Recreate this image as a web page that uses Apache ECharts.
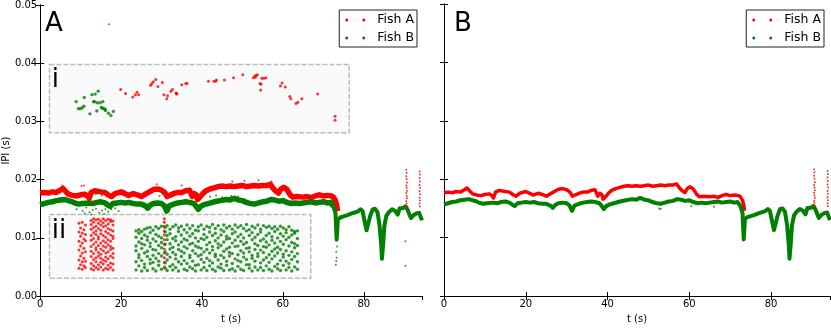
<!DOCTYPE html>
<html>
<head>
<meta charset="utf-8">
<script src="https://cdn.jsdelivr.net/npm/echarts@6/dist/echarts.min.js"></script>
<style>
	body { margin : 0; background : #fff; }
	#ipi_div { width : 831px; height : 329px; }
</style>
</head>
<body>
<div id="ipi_div"></div>
<script>
// IPI values are kept in ms, the y labels show seconds
var xTicks = [ 0, 20, 40, 60, 80 ];

// band of Fish A, [t (s), IPI (ms)]
var fishA = [ [0,17.7],[1,17.8],[2,17.7],[3,17.9],[4,17.8],[5,18.2],[5.6,18.5],[6.3,18.0],[7,17.5],[8,17.3],[9,17.2],[10,17.4],[11,17.5],[11.7,17.2],[12.1,16.8],[12.6,17.8],[13.5,18.1],[15,17.9],[16,17.8],[17,17.3],[17.6,17.1],[18.5,17.6],[20,17.9],[21,17.6],[21.8,17.3],[23,17.6],[24,17.4],[25,17.1],[26,17.5],[27,17.9],[28,18.3],[29,18.4],[30,18.2],[30.8,17.8],[31.4,17.1],[32,17.3],[33,17.6],[34,17.8],[35,17.8],[36,18.1],[36.9,18.2],[37.2,17.8],[37.6,17.1],[38.1,17.6],[38.6,17.4],[38.9,16.6],[39.5,17.0],[40.2,17.6],[41,18.1],[42,18.4],[43,18.6],[44,18.8],[45,18.9],[46,18.8],[47,18.9],[48,18.8],[49,18.9],[50,19.0],[51,18.8],[51.3,18.5],[52,18.9],[53,19.0],[54,18.9],[55,19.0],[56,19.0],[56.9,19.2],[57.5,18.6],[58,18.2],[58.9,17.7],[59.5,18.4],[60.2,18.7],[61,18.3],[61.8,17.4],[62.5,17.0],[63.5,17.1],[65,17.0],[66,17.1],[67,16.9],[68,17.2],[69,17.4],[70,17.2],[71,17.3],[72,17.2],[72.5,17.0],[73,16.4],[73.3,15.6],[73.5,14.6] ];

// band of Fish B
var fishB = [ [0,15.7],[1,15.9],[2,16.1],[3,16.2],[4,16.4],[5,16.5],[6,16.6],[7,16.4],[8,16.2],[8.5,16.0],[9.5,15.8],[10.5,15.9],[12,16.0],[13,15.9],[14,16.1],[15,16.2],[16,16.0],[16.8,15.6],[17.3,15.4],[18,15.9],[19,16.0],[20,16.1],[21,16.0],[22,16.1],[23,15.9],[24,15.8],[25,15.8],[26,15.5],[26.6,15.1],[27.2,15.6],[28,15.9],[29,16.0],[30,15.9],[30.7,15.5],[31.3,14.6],[31.9,15.5],[33,15.8],[34,16.0],[35,16.1],[36,16.2],[37,16.1],[38,15.9],[38.6,15.4],[39.1,14.9],[39.7,15.4],[40.5,15.7],[41.5,15.9],[43,16.2],[44.5,16.4],[46,16.6],[47,16.5],[48,16.8],[49,16.5],[50,16.4],[51,16.1],[52,15.9],[53,15.8],[54,16.0],[55,16.2],[56,16.3],[57,16.6],[58,16.5],[59,16.3],[60,16.4],[61,16.1],[62,15.9],[63,16.0],[64,15.9],[65,16.0],[66,16.1],[67,16.2],[68,16.0],[69,16.1],[70,16.2],[71,16.0],[71.8,16.1],[72.5,15.4],[73,14.3],[73.3,9.7],[73.6,13.2],[74.2,13.5],[75,13.7],[76,13.9],[77,14.2],[78,14.4],[78.7,14.6],[79.2,14.9],[79.7,14.6],[80.2,12.9],[80.7,11.3],[81.1,11.6],[81.6,13.8],[82.2,14.9],[82.8,15.0],[83.4,14.4],[83.9,12.2],[84.3,9.0],[84.5,6.4],[84.8,9.0],[85.1,12.1],[85.6,13.8],[86.2,14.4],[87,14.9],[87.8,14.6],[88.4,14.0],[88.9,15.1],[89.6,15.1],[90.3,15.4],[90.8,14.9],[91.3,14.0],[91.7,13.4],[92.3,13.9],[93,14.2],[93.7,14.3],[94.1,14.0],[94.4,13.0] ];

// late Fish A bursts
var spikesA = [ [90.5,21.7],[90.6,21.2],[90.5,20.6],[90.6,20.1],[90.7,19.5],[90.5,19.0],[90.6,18.6],[90.7,18.1],[90.5,17.7],[90.6,17.2],[90.7,16.8],[90.5,16.3],[90.6,15.9],[90.8,15.4],
	[93.8,21.4],[93.9,20.9],[93.8,20.3],[93.9,19.7],[93.8,19.1],[93.9,18.6],[93.8,18.0],[93.9,17.5],[93.8,16.9],[93.9,16.4],[93.8,15.9],[93.9,15.4] ];

// stray points, panel A
var strayA_A = [ [5.5,19.0],[10.2,18.9],[10.8,19.0],[12.9,16.2],[28.8,19.2],[35,19.0],[47.5,19.7],[50.5,19.8],[54,19.9],[57.2,19.7],[62,16.3],[65.5,16.4],[68,16.2],[70.5,16.5] ];
var strayA_B = [ [17,46.7],[9,14.9],[10.5,14.6],[11.4,15.2],[12.2,14.4],[13,14.8],[13.8,15.0],[14.6,14.3],[15.3,14.7],[16.1,14.9],[16.8,14.5],[17.6,14.9],[18.5,15.1],[19.4,14.6],[12.6,14.0],[15.8,14.1],[11.0,14.2],
	[13.8,17.5],[14.3,17.9],[15.2,17.3],[14.8,18.0],[29.5,17.2],[30.2,17.6],[40.5,17.4],[42,17.1],[43.5,17.3],[45,17.0],[47.2,17.2],[49,17.1],
	[73.1,5.4],[73.2,6.0],[73.3,6.6],[73.2,7.6],[73.4,8.5],[90.3,9.4],[90.3,5.2] ];
var strayB_B = [ [52.6,15.0],[53.0,14.9],[60.5,15.4],[66,15.3] ];

// inset i
var insetIRed = [ [19.9,35.5],[21.1,34.8],[22.9,34.2],[23.55,34.6],[23.95,35.0],[24.35,34.6],[27.3,36.2],[27.6,36.5],[28.0,36.8],[28.6,37.2],[29.1,36.0],[30.2,36.7],[30.6,34.6],[31.5,34.4],[31.3,33.9],[32.3,35.2],[32.7,35.5],[33.7,34.8],[33.8,34.7],[33.6,34.9],[35.0,36.3],[36.0,36.5],[36.3,36.5],[41.6,36.9],[42.95,36.9],[43.35,36.9],[43.6,37.1],[45.55,37.1],[47.8,37.5],[50.1,38.0],[52.7,37.5],[53.05,37.8],[53.2,37.6],[53.4,37.9],[53.7,38.0],[54.8,37.4],[55.3,37.4],[55.8,37.5],[54.35,36.5],[54.6,36.4],[54.5,35.4],[59.4,36.1],[59.8,36.6],[60.6,35.9],[61.7,34.3],[62.0,33.9],[63.25,33.1],[63.7,33.3],[64.7,33.9],[68.6,34.7],[72.9,30.9],[72.9,30.2] ];
var insetIGreen = [ [8.9,33.4],[9.45,32.2],[9.9,32.2],[10.35,32.3],[10.8,32.6],[10.9,34.1],[12.3,31.3],[12.8,34.6],[13.2,33.4],[13.6,34.7],[13.45,33.4],[14.0,31.8],[14.1,33.2],[14.35,35.2],[14.8,33.2],[15.15,32.4],[15.5,33.4],[15.3,32.3],[15.7,32.2],[16.05,32.1],[16.15,31.9],[16.9,31.4],[17.5,31.0],[18.1,31.7] ];

// inset ii, columns: [t, IPI values...]
var insetIIRed = [
	[9.6,4.8,6.2,7.9,9.4,11.0,12.5],[10.0,5.4,6.9,8.6,10.3,11.7],[10.4,4.6,5.9,7.4,9.1,10.8,12.7],[10.8,5.2,6.5,8.2,9.8,11.4],[11.2,4.9,6.0,7.6,9.5,10.6,12.2],
	[12.6,4.7,5.6,6.8,7.7,8.5,9.6,10.4,11.5,12.3,13.0],[13.2,4.5,5.2,6.3,7.3,8.9,9.9,10.9,11.8,12.7,13.3],[13.8,4.9,5.9,6.6,7.9,8.3,9.3,10.6,11.2,12.0,13.1],
	[14.4,4.6,5.4,6.9,7.5,8.7,9.8,10.2,11.6,12.5,13.2],[15.0,5.0,5.8,6.5,7.2,8.1,9.1,10.7,11.3,12.2,12.9],[15.6,4.5,5.5,6.2,7.8,8.6,9.5,10.4,11.9,12.6,13.3],
	[16.2,4.8,6.0,6.7,7.4,8.4,9.2,10.1,11.1,12.1,13.0],[16.8,4.6,5.3,6.4,7.6,8.8,9.7,10.8,11.6,12.4,13.2],[17.4,4.9,5.7,6.9,8.0,8.5,9.4,10.5,11.4,12.8,13.1],
	[18.0,4.5,5.5,6.6,7.3,8.2,9.9,10.3,11.2,12.2,12.9],
	[30.7,5.0,5.8,6.6,7.4,8.1,8.9,9.7,10.5,11.2,12.0,12.7,13.3] ];
var insetIIGreen = [
	[23.7,4.5,5.9,7.8,8.6,10.1,11.2],[24.4,5.2,6.6,7.1,9.3,10.8,11.4],[25.1,4.3,6.1,8.2,9.0,9.9,11.1],[25.8,4.9,5.5,7.4,8.8,10.5,11.5],
	[26.5,4.4,6.8,7.7,9.6,10.2,11.7],[27.2,5.6,6.3,8.5,9.1,10.9,11.8],[27.9,4.7,5.8,7.0,8.0,9.8,11.3],[28.6,4.3,6.5,7.9,9.4,10.6,11.9],
	[29.3,5.3,6.0,7.3,8.7,10.3,11.6],[30.0,4.6,6.9,8.3,9.2,10.0,12.0],[30.9,4.8,5.7,7.6,8.9,11.0,11.8],[31.4,4.4,6.2,7.2,9.7,10.4,12.1],
	[32.1,5.1,6.7,8.1,9.0,10.7,11.5],[32.8,4.5,5.4,7.5,8.4,9.9,11.9],[33.5,4.9,6.4,7.1,9.5,10.2,12.2],[34.2,4.3,5.9,8.0,8.8,11.1,11.7],
	[34.9,5.5,6.8,7.7,9.3,10.5,12.0],[35.6,4.6,6.1,7.4,8.5,9.8,11.4],[36.3,4.4,5.6,8.2,9.6,10.9,12.2],[37.0,5.0,6.6,7.0,8.9,10.3,11.6],
	[37.7,4.7,6.0,7.8,9.1,10.7,12.1],[38.4,4.3,5.3,7.3,8.6,10.0,11.3],[39.1,5.4,6.9,8.4,9.4,11.2,11.9],[39.8,4.5,6.3,7.1,8.2,9.9,12.2],
	[40.5,4.9,5.8,7.6,9.7,10.6,11.5],[41.2,4.4,6.5,8.0,8.8,10.1,12.0],[41.9,5.2,6.1,7.4,9.2,11.0,11.8],[42.6,4.6,5.7,7.9,8.5,10.4,12.3],
	[43.3,4.3,6.8,7.2,9.5,10.8,11.6],[44.0,5.0,6.2,8.3,9.0,10.0,12.1],[44.7,4.8,5.5,7.0,8.7,10.5,11.4],[45.4,4.4,6.6,7.7,9.3,11.1,12.2],
	[46.1,5.3,6.0,8.1,9.8,10.3,11.7],[46.8,4.5,6.9,7.5,8.4,9.9,12.0],[47.5,4.7,5.6,7.3,9.1,10.7,11.5],[48.2,4.3,6.4,8.5,9.6,11.0,12.2],
	[48.9,5.1,6.1,7.1,8.6,10.2,11.8],[49.6,4.6,5.9,7.8,9.4,10.6,12.1],[50.3,4.4,6.7,7.4,8.9,10.0,11.6],[51.0,5.4,6.3,8.2,9.2,11.2,12.3],
	[51.7,4.8,5.4,7.6,8.3,10.4,11.4],[52.4,4.3,6.5,7.0,9.7,10.9,12.0],[53.1,5.0,6.0,8.0,9.0,10.1,11.7],[53.8,4.5,6.8,7.3,8.7,10.6,12.2],
	[54.5,4.9,5.7,7.9,9.5,11.0,11.5],[55.2,4.4,6.2,7.5,8.5,9.8,12.1],[55.9,5.2,6.6,8.4,9.3,10.4,11.8],[56.6,4.6,5.8,7.1,8.8,10.8,12.0],
	[57.3,4.3,6.4,7.7,9.6,10.2,11.6],[58.0,5.1,6.9,8.1,9.1,11.1,11.9],[58.7,4.7,5.5,7.4,8.4,10.0,11.5],[59.4,4.4,6.1,8.0,9.4,10.7,12.0],
	[60.1,5.3,6.7,7.2,8.9,10.3,11.7],[60.8,4.5,6.0,7.8,9.7,10.9,11.4],[61.5,4.9,5.6,7.0,8.6,10.1,11.9],[62.2,4.3,6.3,7.6,9.2,10.5,11.3],
	[62.9,5.0,6.8,8.3,9.0,10.8,11.1],[63.6,4.6,5.9,7.3,8.7,9.9,11.2] ];

// inset frames [t0, ipi0, t1, ipi1]
var insetI = [ 2.3, 28.05, 76.4, 39.8 ];
var insetII = [ 2.3, 3.05, 66.9, 14.0 ];

(function() {
	var mychart = echarts.init(document.getElementById('ipi_div'));
	var RED = '#ff0000', GREEN = '#008000';
	var FONT = 'DejaVu Sans';

	function cols(list) {
		var out = [];
		list.forEach(function(c) {
			for (var i = 1; i < c.length; i++) out.push([ c[0], c[i] ]);
		});
		return out;
	}
	var fishB_early = fishB.filter(function(p) { return p[0] <= 72.5; });
	var fishB_late = fishB.filter(function(p) { return p[0] >= 72.5; });

	function xAx(grid, bottom) {
		return {
			gridIndex : grid,
			type : 'value',
			min : 0,
			max : 94.4,
			interval : 20,
			position : bottom ? 'bottom' : 'top',
			name : bottom ? 't (s)' : '',
			nameLocation : 'middle',
			nameGap : 17,
			nameTextStyle : { fontSize : 10, color : '#000', fontFamily : FONT },
			axisLine : { lineStyle : { color : '#000', width : 1 } },
			axisTick : { inside : true, length : 4, lineStyle : { color : '#000' } },
			axisLabel : {
				show : bottom,
				fontSize : 10,
				color : '#000',
				fontFamily : FONT,
				margin : 3,
				showMaxLabel : false,
				formatter : function(v) { return xTicks.indexOf(v) >= 0 ? String(v) : ''; }
			},
			splitLine : { show : false }
		};
	}
	function yAx(grid, left, labels) {
		return {
			gridIndex : grid,
			type : 'value',
			min : 0,
			max : 50,
			interval : 10,
			position : left ? 'left' : 'right',
			name : labels ? 'IPI (s)' : '',
			nameLocation : 'middle',
			nameGap : 27,
			nameTextStyle : { fontSize : 10, color : '#000', fontFamily : FONT },
			axisLine : { lineStyle : { color : '#000', width : 1 } },
			axisTick : { inside : true, length : 4, lineStyle : { color : '#000' } },
			axisLabel : {
				show : labels,
				fontSize : 10,
				color : '#000',
				fontFamily : FONT,
				margin : 3,
				formatter : function(v) { return (v / 1000).toFixed(2); }
			},
			splitLine : { show : false }
		};
	}
	function band(name, data, color, width, xi, yi) {
		return {
			name : name,
			type : 'line',
			xAxisIndex : xi,
			yAxisIndex : yi,
			data : data,
			showSymbol : false,
			lineStyle : { color : color, width : width, join : 'round' },
			itemStyle : { color : color },
			z : 3
		};
	}
	function dots(name, data, color, size, xi, yi) {
		return {
			name : name,
			type : 'scatter',
			xAxisIndex : xi,
			yAxisIndex : yi,
			data : data,
			symbolSize : size,
			itemStyle : { color : color },
			z : 4
		};
	}
	function frame(box, label) {
		return [ {
			coord : [ box[0], box[3] ],
			label : {
				show : true,
				position : 'insideTopLeft',
				formatter : label,
				fontSize : 26,
				color : '#000',
				fontFamily : FONT,
				offset : [ -2, -1 ]
			}
		}, {
			coord : [ box[2], box[1] ]
		} ];
	}
	var icon = 'path://M0,1.5a1.5,1.5 0 1,0 3,0a1.5,1.5 0 1,0 -3,0M17,1.5a1.5,1.5 0 1,0 3,0a1.5,1.5 0 1,0 -3,0';
	function legendAt(right) {
		return {
			orient : 'vertical',
			right : right,
			top : 10,
			data : [ 'Fish A', 'Fish B' ],
			icon : icon,
			itemWidth : 20,
			itemHeight : 3,
			itemGap : 4,
			padding : [ 3, 3, 2, 6 ],
			borderColor : '#222',
			borderWidth : 1,
			borderRadius : 0,
			backgroundColor : '#fff',
			textStyle : { fontSize : 12.5, color : '#000', fontFamily : FONT, lineHeight : 14, padding : [ 0, 0, 0, 7 ] }
		};
	}

	var redA = band('Fish A', fishA, RED, 5.5, 0, 0);
	redA.markArea = {
		silent : true,
		itemStyle : { color : '#fafafa', borderColor : '#bbbbbb', borderWidth : 1.5, borderType : [ 5, 2 ] },
		data : [ frame(insetI, 'i'), frame(insetII, 'ii') ]
	};

	var option = {
		animation : false,
		textStyle : { fontFamily : FONT },
		title : [
			{ text : 'A', left : 45, top : 11, padding : 0, textStyle : { fontSize : 26, fontWeight : 'normal', color : '#000', fontFamily : FONT } },
			{ text : 'B', left : 454, top : 11, padding : 0, textStyle : { fontSize : 26, fontWeight : 'normal', color : '#000', fontFamily : FONT } }
		],
		legend : [ legendAt(414), legendAt(7) ],
		grid : [
			{ left : 37, top : 4, width : 385, height : 300 },
			{ left : 444, top : 4, width : 386, height : 300 }
		],
		xAxis : [ xAx(0, true), xAx(0, false), xAx(1, true), xAx(1, false) ],
		yAxis : [ yAx(0, true, true), yAx(0, false, false), yAx(1, true, false), yAx(1, false, false) ],
		series : [
			redA,
			band('Fish B', fishB_early, GREEN, 5.5, 0, 0),
			band('Fish B', fishB_late, GREEN, 4, 0, 0),
			dots('Fish A', spikesA.concat(strayA_A), RED, 2, 0, 0),
			dots('Fish B', strayA_B, GREEN, 2, 0, 0),
			dots('Fish A', insetIRed.concat(cols(insetIIRed)), RED, 3, 0, 0),
			dots('Fish B', insetIGreen.concat(cols(insetIIGreen)), GREEN, 3.4, 0, 0),
			band('Fish A', fishA, RED, 3.5, 2, 2),
			band('Fish B', fishB, GREEN, 4, 2, 2),
			dots('Fish A', spikesA, RED, 2, 2, 2),
			dots('Fish B', strayB_B, GREEN, 2, 2, 2)
		]
	};
	mychart.setOption(option);
})();
</script>
</body>
</html>
